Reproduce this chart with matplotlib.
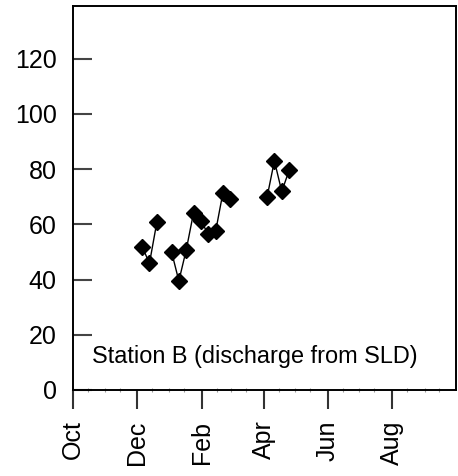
import matplotlib
matplotlib.use("Agg")
import matplotlib.pyplot as plt
import numpy as np
import datetime as dt

plt.rcParams['font.family'] = ['Liberation Sans', 'DejaVu Sans']

dates = ["2010-12-06", "2010-12-13", "2010-12-20", "2011-01-03", "2011-01-10",
         "2011-01-17", "2011-01-24", "2011-01-31", "2011-02-07", "2011-02-14",
         "2011-02-21", "2011-02-28", "2011-04-04", "2011-04-11", "2011-04-18",
         "2011-04-25"]
values = [51.9, 45.9, 60.7, 50.1, 39.5, 50.7, 64.2, 61.3, 56.4, 57.4,
          71.5, 69.2, 69.8, 83.0, 71.9, 79.5]
month_labels = ["Oct", "Dec", "Feb", "Apr", "Jun", "Aug"]
yticks = [0, 20, 40, 60, 80, 100, 120]
label = "Station B (discharge from SLD)"

d = np.array([np.datetime64(x) for x in dates])
v = np.array(values)

fig = plt.figure(figsize=(4.58, 4.76), dpi=100)
ax = fig.add_axes([0.159, 0.1807, 0.8367, 0.8063])

# split into segments where weekly sampling is interrupted
gaps = np.where(np.diff(d).astype(int) > 8)[0] + 1
for seg_d, seg_v in zip(np.split(d, gaps), np.split(v, gaps)):
    ax.plot(seg_d, seg_v, color='black', lw=1.0, zorder=2)
ax.plot(d, v, linestyle='none', marker='D', markersize=7.8,
        color='black', zorder=3)

ax.set_xlim(np.datetime64("2010-10-01"), np.datetime64("2011-10-01"))
ax.set_ylim(0, 139)

major = [np.datetime64(x) for x in ["2010-10-01", "2010-12-01", "2011-02-01",
                                    "2011-04-01", "2011-06-01", "2011-08-01"]]
ax.set_xticks(major)
ax.set_xticklabels(month_labels, rotation=90, fontsize=18)
minor = []
for y, m in [(2010, 10), (2010, 11), (2010, 12), (2011, 1), (2011, 2), (2011, 3),
             (2011, 4), (2011, 5), (2011, 6), (2011, 7), (2011, 8), (2011, 9)]:
    minor.append(np.datetime64(dt.date(y, m, 1)))
    minor.append(np.datetime64(dt.date(y, m, 15)))
ax.set_xticks(minor, minor=True)
ax.tick_params(axis='x', which='major', direction='out', length=14, width=1.5,
               colors='#333333', labelcolor='black', pad=8)
ax.tick_params(axis='x', which='minor', direction='inout', length=3, width=0.8,
               colors='#999999')

ax.set_yticks(yticks)
ax.set_yticklabels([str(t) for t in yticks], fontsize=18)
ax.tick_params(axis='y', which='major', direction='in', length=14, width=1.5,
               colors='#444444', labelcolor='black', pad=11.5)
ax.tick_params(axis='y', which='minor', left=False)

for s in ax.spines.values():
    s.set_linewidth(1.4)
    s.set_color('black')

ax.text(0.474, 0.071, label, transform=ax.transAxes, ha='center', va='baseline',
        fontsize=16.9)

fig.savefig("out.png", dpi=100)
